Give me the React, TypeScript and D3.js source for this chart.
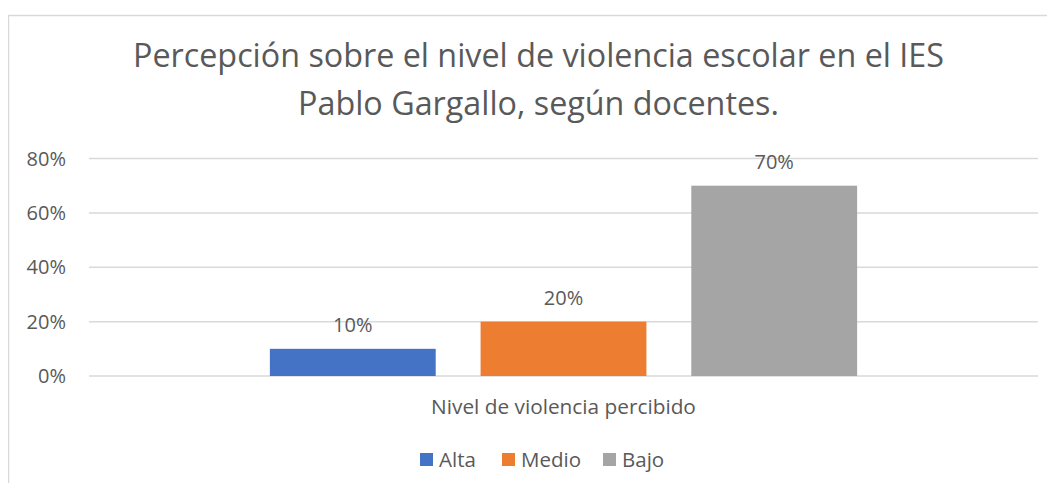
import React, { useEffect, useRef } from 'react';
import * as d3 from 'd3';

const categories = ['Nivel de violencia percibido'];
const seriesNames = ['Alta', 'Medio', 'Bajo'];
const seriesValues = [0.1, 0.2, 0.7];
const seriesColors = ['#4472C4', '#ED7D31', '#A5A5A5'];
const yTicks = [0, 0.2, 0.4, 0.6, 0.8];
const titleLines = [
  'Percepción sobre el nivel de violencia escolar en el IES',
  'Pablo Gargallo, según docentes.',
];

const App: React.FC = () => {
  const svgRef = useRef<SVGSVGElement>(null);

  useEffect(() => {
    if (!svgRef.current) return;
    const svg = d3.select(svgRef.current);
    svg.selectAll('*').remove();

    const width = 1055;
    const height = 491;
    const font = '"Open Sans", sans-serif';
    const textColor = '#595959';
    const plot = { left: 89, right: 1038, top: 158.5, bottom: 376 };

    svg.attr('width', width).attr('height', height);

    // chart frame
    svg.append('rect')
      .attr('x', 8.5).attr('y', 15.5)
      .attr('width', 1100).attr('height', 600)
      .attr('fill', '#fff')
      .attr('stroke', '#d9d9d9')
      .attr('stroke-width', 1.5);

    // title
    svg.append('text')
      .attr('text-anchor', 'middle')
      .attr('font-family', font)
      .attr('font-size', 32.3)
      .attr('fill', textColor)
      .selectAll('tspan')
      .data(titleLines)
      .enter()
      .append('tspan')
      .attr('x', 538.5)
      .attr('y', (_, i) => 67 + i * 48)
      .text(d => d);

    const y = d3.scaleLinear().domain([0, 0.8]).range([plot.bottom, plot.top]);

    const x0 = d3.scaleBand<string>()
      .domain(categories)
      .range([plot.left, plot.right])
      .paddingOuter(0.308);

    const x1 = d3.scaleBand<string>()
      .domain(seriesNames)
      .range([0, x0.bandwidth()])
      .paddingInner(0.213)
      .paddingOuter(0);

    // gridlines
    svg.append('g')
      .selectAll('line')
      .data(yTicks)
      .enter()
      .append('line')
      .attr('x1', plot.left).attr('x2', plot.right)
      .attr('y1', d => y(d)).attr('y2', d => y(d))
      .attr('stroke', '#d9d9d9')
      .attr('stroke-width', 1.5);

    // y tick labels
    svg.append('g')
      .selectAll('text')
      .data(yTicks)
      .enter()
      .append('text')
      .attr('x', 66)
      .attr('y', d => y(d))
      .attr('dy', '0.35em')
      .attr('text-anchor', 'end')
      .attr('font-family', font)
      .attr('font-size', 20)
      .attr('fill', textColor)
      .text(d => d3.format('.0%')(d));

    const groupX = x0(categories[0]) ?? 0;

    // bars
    svg.append('g')
      .selectAll('rect')
      .data(seriesNames)
      .enter()
      .append('rect')
      .attr('x', d => groupX + (x1(d) ?? 0))
      .attr('y', (_, i) => y(seriesValues[i]))
      .attr('width', x1.bandwidth())
      .attr('height', (_, i) => plot.bottom - y(seriesValues[i]))
      .attr('fill', (_, i) => seriesColors[i]);

    // data labels
    svg.append('g')
      .selectAll('text')
      .data(seriesNames)
      .enter()
      .append('text')
      .attr('x', d => groupX + (x1(d) ?? 0) + x1.bandwidth() / 2)
      .attr('y', (_, i) => y(seriesValues[i]) - 17)
      .attr('text-anchor', 'middle')
      .attr('font-family', font)
      .attr('font-size', 20)
      .attr('fill', textColor)
      .text((_, i) => d3.format('.0%')(seriesValues[i]));

    // axis title (category label)
    svg.append('text')
      .attr('x', groupX + x0.bandwidth() / 2)
      .attr('y', 414)
      .attr('text-anchor', 'middle')
      .attr('font-family', font)
      .attr('font-size', 20.8)
      .attr('fill', textColor)
      .text(categories[0]);

    // legend
    const legendX = [420, 502, 603];
    const legend = svg.append('g')
      .selectAll('g')
      .data(seriesNames)
      .enter()
      .append('g')
      .attr('transform', (_, i) => `translate(${legendX[i]},467)`);

    legend.append('rect')
      .attr('x', 0).attr('y', -14)
      .attr('width', 13).attr('height', 13)
      .attr('fill', (_, i) => seriesColors[i]);

    legend.append('text')
      .attr('x', 19)
      .attr('y', 0)
      .attr('font-family', font)
      .attr('font-size', 20.5)
      .attr('fill', textColor)
      .text(d => d);
  }, []);

  return (
    <div style={{ margin: -8, background: '#fff' }}>
      <svg ref={svgRef} style={{ display: 'block' }}></svg>
    </div>
  );
};

export default App;
